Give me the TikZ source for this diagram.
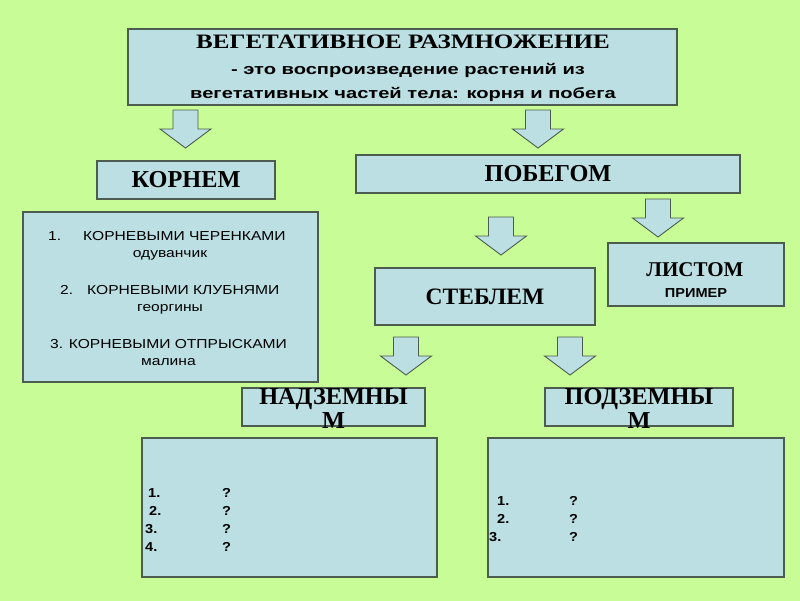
\documentclass[tikz,border=0pt]{standalone}
\usepackage{fontspec}
\usetikzlibrary{shadows}
\setmainfont{Liberation Serif}
\setsansfont{Liberation Sans}
\newfontfamily\serifwide[FakeStretch=1.22]{Liberation Serif}
\newfontfamily\sanswide[FakeStretch=1.34]{Liberation Sans}
\newfontfamily\sansmid[FakeStretch=1.2]{Liberation Sans}
\newfontfamily\sanssmall[FakeStretch=1.12]{Liberation Sans}
\definecolor{boxfill}{HTML}{BBDFE2}
\definecolor{boxline}{HTML}{4C5C4E}
\definecolor{bggreen}{HTML}{C8FC96}
\definecolor{bgyellow}{HTML}{FFFF99}
\tikzset{
  box/.style={draw=boxline, fill=boxfill, line width=1.3pt, inner sep=0pt,
    drop shadow={shadow xshift=1.2pt, shadow yshift=-1.2pt, opacity=0.45, fill=black!80}},
  arrowblk/.style={draw=boxline, fill=boxfill, line width=0.9pt, line join=miter},
  bigt/.style={inner sep=0pt, font=\fontsize{24.3}{26}\selectfont\bfseries},
  titlet/.style={inner sep=0pt, font=\fontsize{20.5}{22}\serifwide\bfseries},
  subt/.style={inner sep=0pt, font=\fontsize{15}{18}\sanswide\bfseries},
  listt/.style={inner sep=0pt, font=\fontsize{13}{16}\sansmid},
  smallt/.style={inner sep=0pt, font=\fontsize{13}{16}\sanssmall\bfseries},
}
\newcommand\blockarrow[2]{\path[arrowblk] (#1,#2) ++(-12.5,0) -- ++(25,0) -- ++(0,19) -- ++(13,0) -- ++(-25.5,19) -- ++(-25.5,-19) -- ++(13,0) -- cycle;}
\begin{document}
\begin{tikzpicture}[x=1pt,y=-1pt]
\shade[top color=bggreen, middle color=bgyellow, bottom color=bggreen] (0,0) rectangle (800,600);
\useasboundingbox (0,0) rectangle (800,600);

% top box
\node[box, minimum width=549pt, minimum height=76pt] (top) at (402.5,67) {};
\node[titlet, anchor=base] (topA) at (403,48) {ВЕГЕТАТИВНОЕ РАЗМНОЖЕНИЕ};
\node[subt, anchor=base] (topB) at (408,74) {- это воспроизведение растений из};
\node[subt, anchor=base] (topC) at (403,98) {вегетативных частей тела: корня и побега};

% arrows
\blockarrow{185.5}{110}
\blockarrow{538}{110}
\blockarrow{501}{217}
\blockarrow{658}{199}
\blockarrow{406}{337}
\blockarrow{570}{337}

% КОРНЕМ
\node[box, minimum width=178pt, minimum height=38pt, bigt] (korn) at (186,180) {КОРНЕМ};
% ПОБЕГОМ
\node[box, minimum width=384pt, minimum height=38pt, bigt] (pobeg) at (548,174) {ПОБЕГОМ};

% root list
\node[box, minimum width=295pt, minimum height=170pt] (kl) at (170.5,297) {};
\node[listt, anchor=base west] (k1n) at (48,240) {1.};
\node[listt, anchor=base west] (k1) at (83,240) {КОРНЕВЫМИ ЧЕРЕНКАМИ};
\node[listt, anchor=base] (k1b) at (170,257) {одуванчик};
\node[listt, anchor=base west] (k2n) at (60,294) {2.};
\node[listt, anchor=base west] (k2) at (87,294) {КОРНЕВЫМИ КЛУБНЯМИ};
\node[listt, anchor=base] (k2b) at (170,311.5) {георгины};
\node[listt, anchor=base] (k3) at (168.5,348) {3. КОРНЕВЫМИ ОТПРЫСКАМИ};
\node[listt, anchor=base] (k3b) at (168.5,365) {малина};

% СТЕБЛЕМ
\node[box, minimum width=220pt, minimum height=57pt, bigt, font=\fontsize{23.5}{26}\selectfont\bfseries] (stebl) at (485,296.5) {СТЕБЛЕМ};
% ЛИСТОМ
\node[box, minimum width=176pt, minimum height=63pt] (list) at (696,274.5) {};
\node[bigt, font=\fontsize{21}{24}\selectfont\bfseries, anchor=base] (listA) at (695,276) {ЛИСТОМ};
\node[smallt, anchor=base] (listB) at (696,297) {ПРИМЕР};

% НАДЗЕМНЫМ
\node[box, minimum width=183pt, minimum height=38pt] (nadz) at (333.5,407) {};
\node[bigt, anchor=base] (nadzA) at (333.5,404) {НАДЗЕМНЫ};
\node[bigt, anchor=base] (nadzB) at (333.5,428) {М};
% ПОДЗЕМНЫМ
\node[box, minimum width=188pt, minimum height=38pt] (podz) at (639,407) {};
\node[bigt, anchor=base] (podzA) at (639,404) {ПОДЗЕМНЫ};
\node[bigt, anchor=base] (podzB) at (639,428) {М};

% bottom lists
\node[box, minimum width=295pt, minimum height=139pt] (nl) at (289.5,507.5) {};
\node[smallt, anchor=base west] (n1) at (148,497) {1.};
\node[smallt, anchor=base west] (n2) at (149,515) {2.};
\node[smallt, anchor=base west] (n3) at (145,533) {3.};
\node[smallt, anchor=base west] (n4) at (145,551.5) {4.};
\node[smallt, anchor=base west] (n1q) at (222,497) {?};
\node[smallt, anchor=base west] (n2q) at (222,515) {?};
\node[smallt, anchor=base west] (n3q) at (222,533) {?};
\node[smallt, anchor=base west] (n4q) at (222,551.5) {?};

\node[box, minimum width=296pt, minimum height=139pt] (pl) at (636,507.5) {};
\node[smallt, anchor=base west] (p1) at (497,505) {1.};
\node[smallt, anchor=base west] (p2) at (497,523) {2.};
\node[smallt, anchor=base west] (p3) at (489,541.5) {3.};
\node[smallt, anchor=base west] (p1q) at (569,505) {?};
\node[smallt, anchor=base west] (p2q) at (569,523) {?};
\node[smallt, anchor=base west] (p3q) at (569,541.5) {?};
\end{tikzpicture}
\end{document}
